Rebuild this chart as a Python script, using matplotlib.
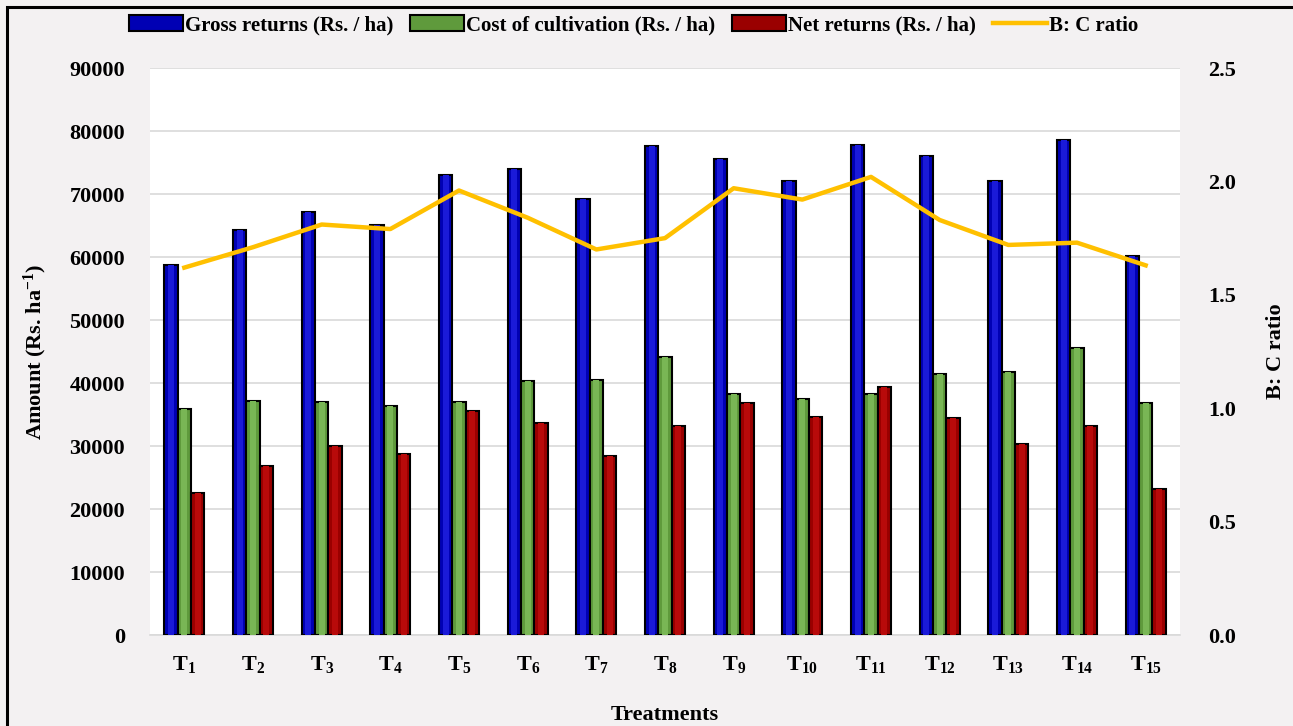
import matplotlib
matplotlib.use("Agg")
import matplotlib.pyplot as plt
import numpy as np
from matplotlib.patches import Rectangle

plt.rcParams['font.family'] = ['Liberation Serif', 'DejaVu Serif']
plt.rcParams['font.weight'] = 'bold'
plt.rcParams['mathtext.fontset'] = 'custom'
plt.rcParams['mathtext.rm'] = 'Liberation Serif:bold'
plt.rcParams['mathtext.it'] = 'Liberation Serif:bold'
plt.rcParams['mathtext.bf'] = 'Liberation Serif:bold'

treatments = [f"T$_{{{i}}}$" for i in range(1, 16)]
gross = [58700, 64300, 67100, 65100, 73000, 74000, 69200, 77600,
         75500, 72100, 77800, 76100, 72100, 78600, 60100]
cost = [35900, 37100, 37000, 36300, 37000, 40300, 40500, 44100,
        38200, 37400, 38300, 41500, 41700, 45500, 36800]
net = [22600, 26900, 30000, 28800, 35600, 33600, 28400, 33200,
       36900, 34600, 39300, 34400, 30300, 33200, 23200]
bc_ratio = [1.62, 1.71, 1.81, 1.79, 1.96, 1.84, 1.70, 1.75,
            1.97, 1.92, 2.02, 1.83, 1.72, 1.73, 1.63]

fig = plt.figure(figsize=(12.93, 7.26), dpi=100, facecolor='#f3f1f2')
ax = fig.add_axes([0.116, 0.1253, 0.7966, 0.781])
ax.set_facecolor('white')

x = np.arange(len(treatments))
w = 0.195

series = [
    (gross, '#0000b4', '#1a1ad8', 'Gross returns (Rs. / ha)'),
    (cost, '#5f9a3c', '#79b655', 'Cost of cultivation (Rs. / ha)'),
    (net, '#9a0000', '#b80a0a', 'Net returns (Rs. / ha)'),
]
handles = []
for k, (vals, col, hi, lab) in enumerate(series):
    pos = x + (k - 1) * w
    b = ax.bar(pos, vals, w, color=col, edgecolor='black', linewidth=1.5,
               label=lab, zorder=3)
    # lighter centre stripe for the bevelled look
    ax.bar(pos, vals, w * 0.45, color=hi, linewidth=0, zorder=4)
    handles.append(b)

ax.set_xlim(-0.5, len(treatments) - 0.5)
ax.set_ylim(0, 90000)
ax.set_yticks(np.arange(0, 90001, 10000))
ax.yaxis.grid(True, color='#d9d9d9', linewidth=1.2, zorder=0)
ax.set_axisbelow(True)
for s in ax.spines.values():
    s.set_visible(False)
ax.spines['bottom'].set_visible(True)
ax.spines['bottom'].set_color('#d9d9d9')
ax.spines['bottom'].set_linewidth(1.2)

ax.set_xticks(x)
ax.set_xticklabels(treatments, fontsize=16, fontweight='bold')
ax.tick_params(axis='x', length=0, pad=14)
ax.tick_params(axis='y', length=0, pad=18, labelsize=16)
ax.set_ylabel('Amount (Rs. ha$^{-1}$)', fontsize=16, fontweight='bold', labelpad=15)
ax.set_xlabel('Treatments', fontsize=16, fontweight='bold', labelpad=21)

ax2 = ax.twinx()
ln, = ax2.plot(x, bc_ratio, color='#ffc000', linewidth=3.2, label='B: C ratio', zorder=5)
ax2.set_ylim(0, 2.5)
ax2.set_yticks(np.arange(0, 2.51, 0.5))
ax2.set_yticklabels([f"{v:.1f}" for v in np.arange(0, 2.51, 0.5)])
ax2.tick_params(axis='y', length=0, pad=20, labelsize=16)
for s in ax2.spines.values():
    s.set_visible(False)
ax2.set_ylabel('B: C ratio', fontsize=16, fontweight='bold', labelpad=22)

handles.append(ln)
fig.legend(handles=handles, labels=[h.get_label() for h in handles],
           loc='center', bbox_to_anchor=(0.49, 0.965), ncol=4, frameon=False,
           fontsize=15, handlelength=2.6, handleheight=0.8, handletextpad=0.1,
           columnspacing=0.8)

# outer frame
fig.patches.append(Rectangle((7 / 1293, -0.1), 1.2, (726 - 7) / 726 + 0.1,
                             transform=fig.transFigure, fill=False,
                             edgecolor='black', linewidth=2.2))

fig.savefig('out.png', dpi=100, facecolor=fig.get_facecolor())
